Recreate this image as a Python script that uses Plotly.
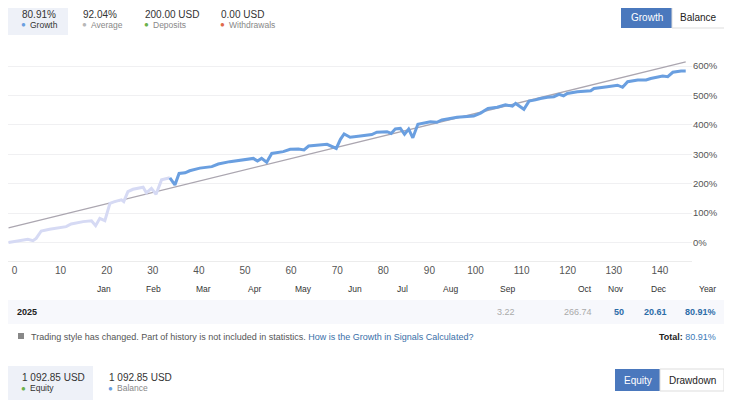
import plotly.graph_objects as go

# Growth curve, part before trading style change (lighter colour)
early_x = [-1.3, 1.1, 2.9, 4.0, 4.7, 5.8, 7.6, 11.2, 12.3, 14.9, 16.7, 17.6, 18.5, 19.6,
           20.7, 21.7, 23.2, 23.7, 24.6, 25.7, 27.9, 28.6, 29.7, 30.7, 31.9, 33.7]
early_y = [0, 6, 11, 6, 14, 39, 45, 54, 63, 71, 74, 57, 82, 74,
           133, 139, 145, 139, 173, 181, 188, 169, 184, 164, 213, 220]

# Growth curve counted in statistics
growth_x = [33.7, 34.8, 35.7, 37.0, 38.0, 40.2, 42.8, 44.2, 46.7, 48.9, 51.8, 52.7, 53.6, 54.7,
            55.8, 58.3, 59.8, 61.6, 62.8, 63.8, 66.3, 67.8, 69.8, 70.7, 71.5, 72.8, 75.0,
            77.5, 78.6, 80.8, 81.7, 82.6, 83.7, 84.6, 85.5, 86.4, 87.5, 90.2, 91.6, 92.7,
            96.0, 99.6, 101.1, 102.7, 104.7, 106.5, 108.0, 108.7, 110.5, 111.6, 113.0,
            114.1, 115.6, 117.0, 118.1, 119.1, 119.9, 122.1, 125.0, 125.7, 128.6, 130.8,
            131.9, 133.0, 135.2, 137.0, 138.0, 140.6, 141.7, 142.8, 144.6, 145.6]
growth_y = [220, 196, 235, 237, 244, 253, 258, 267, 275, 280, 286, 277, 286, 273,
            303, 309, 317, 318, 315, 328, 332, 334, 320, 351, 369, 358, 362,
            367, 375, 377, 371, 386, 388, 368, 386, 356, 402, 411, 409, 417,
            426, 430, 440, 456, 460, 468, 464, 473, 453, 481, 485,
            490, 494, 496, 504, 499, 507, 513, 516, 524, 530, 535,
            528, 547, 553, 553, 558, 566, 564, 579, 583, 583]

# Average trend line
avg_x = [-1.3, 145.6]
avg_y = [50, 614]

x_ticks = list(range(0, 150, 10))
y_ticks = list(range(0, 700, 100))
y_labels = [f"{v}%" for v in y_ticks]

months = ["Jan", "Feb", "Mar", "Apr", "May", "Jun", "Jul", "Aug", "Sep", "Oct", "Nov", "Dec", "Year"]
month_returns = ["", "", "", "", "", "", "", "", "3.22", "266.74", "50", "20.61", "80.91%"]
year_label = "2025"

stats_values = ["80.91%", "92.04%", "200.00 USD", "0.00 USD"]
stats_labels = ["Growth", "Average", "Deposits", "Withdrawals"]
equity_values = ["1 092.85 USD", "1 092.85 USD"]
equity_labels = ["Equity", "Balance"]

# layout helpers: positions below are screen pixels, the page body adds an 8px margin
W, H = 732, 400
OFF = 8
L, R, T, B = 0, 48, 44, 147
PW, PH = W - L - R, H - T - B


def px(x):
    return (x - OFF - L) / PW


def py(y):
    return (H - B - (y - OFF)) / PH


FONT = "Liberation Sans"
BLUE = "#6a9fe0"

fig = go.Figure()
fig.add_trace(go.Scatter(x=avg_x, y=avg_y, mode="lines",
                         line=dict(color="#aba6b0", width=1.3), hoverinfo="skip"))
fig.add_trace(go.Scatter(x=early_x, y=early_y, mode="lines",
                         line=dict(color="#d6daf4", width=3), hoverinfo="skip"))
fig.add_trace(go.Scatter(x=growth_x, y=growth_y, mode="lines",
                         line=dict(color=BLUE, width=3), hoverinfo="skip"))

shapes = []
ann = []


def text(x, y, s, size=9, color="#444", anchor="left", bold=False):
    if bold:
        s = "<b>" + s + "</b>"
    ann.append(dict(x=px(x), y=py(y), xref="paper", yref="paper", text=s, showarrow=False,
                    xanchor=anchor, yanchor="middle",
                    font=dict(family=FONT, size=size, color=color)))


def rect(x0, y0, x1, y1, fill, line=None):
    shapes.append(dict(type="rect", xref="paper", yref="paper",
                       x0=px(x0), x1=px(x1), y0=py(y0), y1=py(y1),
                       fillcolor=fill, line=dict(width=1 if line else 0, color=line or fill),
                       layer="below"))


# header stats
rect(8, 3, 68, 35, "#eef1f8")
stat_x = [20, 81, 143, 219]
dot_colors = [BLUE, "#b8b8b8", "#6cb24a", "#e06a4a"]
for i in range(4):
    text(stat_x[i], 14.5, stats_values[i], size=10, color="#333")
    text(stat_x[i] - 1, 24.5, "●", size=8, color=dot_colors[i])
    text(stat_x[i] + 8, 24.5, stats_labels[i], size=8.5, color="#888" if i else "#333")

# top-right buttons
rect(621, 7, 672, 28, "#4a78bd")
rect(672, 7, 725, 28, "#ffffff", "#dddddd")
text(646.5, 17.5, "Growth", size=10, color="#ffffff", anchor="center")
text(698.5, 17.5, "Balance", size=10, color="#222", anchor="center")

# month header and year row
month_right = [113, 163, 213, 263, 314, 364, 410, 460, 517, 594, 626, 669, 718]
rect(8, 300, 726, 324, "#f7f8fc")
text(15, 311.5, year_label, size=9, color="#222", bold=True)
for i, m in enumerate(months):
    text(month_right[i], 289, m, size=8.5, color="#333", anchor="right")
    if month_returns[i]:
        col = "#aaaaaa" if i < 10 else "#2c6ca8"
        text(month_right[i], 311.5, month_returns[i], size=9, color=col, anchor="right",
             bold=(i >= 10))

# footer note
rect(18, 333, 24, 339, "#888888")
text(29, 336.5, "Trading style has changed. Part of history is not included in statistics. "
     "<span style='color:#3a6fa8'>How is the Growth in Signals Calculated?</span>",
     size=9, color="#555")
text(718, 336.5, "<b>Total:</b> <span style='color:#3a7ab8'>80.91%</span>", size=9,
     color="#222", anchor="right")

# equity / balance
rect(8, 366, 93, 400, "#eef1f8")
eq_x = [20, 107]
eq_dots = ["#6cb24a", BLUE]
for i in range(2):
    text(eq_x[i], 377, equity_values[i], size=10, color="#333")
    text(eq_x[i] - 1, 388, "●", size=8, color=eq_dots[i])
    text(eq_x[i] + 8, 388, equity_labels[i], size=8.5, color="#333" if i == 0 else "#888")

rect(615, 369, 660, 391, "#4a78bd")
rect(660, 369, 724, 391, "#ffffff", "#dddddd")
text(637.5, 380, "Equity", size=10, color="#ffffff", anchor="center")
text(692, 380, "Drawdown", size=10, color="#222", anchor="center")

fig.update_layout(
    width=W, height=H,
    margin=dict(l=L, r=R, t=T, b=B),
    plot_bgcolor="white", paper_bgcolor="white",
    showlegend=False,
    shapes=shapes, annotations=ann,
    xaxis=dict(range=[-1.41, 146.96], tickvals=x_ticks, showgrid=False, zeroline=False,
               showline=True, linecolor="#ececec", ticks="",
               tickfont=dict(family=FONT, size=10, color="#555")),
    yaxis=dict(range=[-63, 648], tickvals=y_ticks, ticktext=y_labels, side="right",
               showgrid=True, gridcolor="#f0f0f2", zeroline=False, ticks="",
               tickfont=dict(family=FONT, size=9.5, color="#555")),
)

fig.write_html("out.html")
